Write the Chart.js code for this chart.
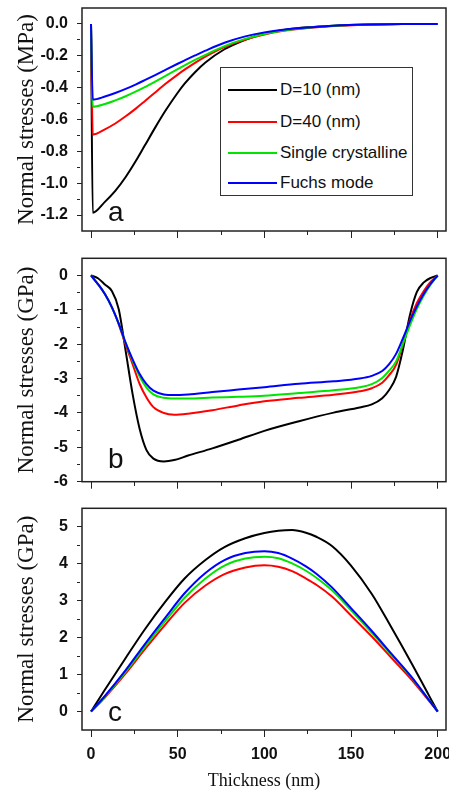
<!DOCTYPE html>
<html lang="en">
<head>
<meta charset="UTF-8" />
<title>Normal stresses vs thickness</title>
<script src="https://cdn.jsdelivr.net/npm/chart.js"></script>
<style>
  body { margin: 0; background: white; }
  .wrap { position: relative; width: 449px; height: 795px; overflow: hidden; font-family: 'Liberation Sans', Arial, sans-serif; }
  canvas { position: absolute; left: 0; }
  .legend { position: absolute; left: 220px; top: 67px; width: 191px; height: 127px; border: 1px solid #333; background: white; }
  .legend .row { position: absolute; left: 7px; height: 20px; display: flex; align-items: center; font-size: 17px; color: #111; white-space: nowrap; }
  .legend .swatch { width: 49px; height: 2px; margin-right: 3px; }
  .tag { position: absolute; left: 108px; font-size: 28px; line-height: 28px; color: #111; }
</style>
</head>
<body>
<div class="wrap">
  <canvas id="panelA" width="449" height="252" style="top:0px"></canvas>
  <canvas id="panelB" width="449" height="252" style="top:252px"></canvas>
  <canvas id="panelC" width="449" height="291" style="top:504px"></canvas>
  <div class="legend" id="legend"></div>
  <div class="tag" style="top:198px">a</div>
  <div class="tag" style="top:445px">b</div>
  <div class="tag" style="top:698px">c</div>
</div>

<script>
  const seriesNames = ["D=10 (nm)", "D=40 (nm)", "Single crystalline", "Fuchs mode"];
  const seriesColors = ["#000000", "#ff0000", "#00e400", "#0000ff"];

  const xMajor = [0, 50, 100, 150, 200];
  const xMinor = [25, 75, 125, 175];

  // panel a  (MPa)
  const thicknessA = [0, 1, 8, 14, 20, 26, 31, 37, 43, 50, 54, 60, 66, 77, 89, 100, 112, 125, 140, 160, 180, 200];
  const aD10    = [0, -1.185, -1.117, -1.048, -0.961, -0.858, -0.764, -0.651, -0.544, -0.432, -0.375, -0.303, -0.242, -0.159, -0.099, -0.06, -0.036, -0.021, -0.011, -0.004, -0.001, 0];
  const aD40    = [0, -0.695, -0.662, -0.625, -0.58, -0.53, -0.485, -0.43, -0.376, -0.318, -0.287, -0.244, -0.205, -0.145, -0.098, -0.066, -0.042, -0.025, -0.013, -0.005, -0.001, 0];
  const aSingle = [0, -0.52, -0.503, -0.48, -0.454, -0.424, -0.397, -0.362, -0.326, -0.284, -0.26, -0.226, -0.194, -0.139, -0.094, -0.063, -0.04, -0.024, -0.012, -0.004, -0.001, 0];
  const aFuchs  = [0, -0.475, -0.456, -0.434, -0.408, -0.379, -0.353, -0.321, -0.288, -0.25, -0.229, -0.198, -0.168, -0.118, -0.078, -0.053, -0.035, -0.022, -0.011, -0.004, -0.001, 0];
  const aYMajor = [0, -0.2, -0.4, -0.6, -0.8, -1.0, -1.2];
  const aYMinor = [-0.1, -0.3, -0.5, -0.7, -0.9, -1.1];

  // panel b  (GPa)
  const thicknessB = [0, 4, 8, 12, 16, 20, 24, 28, 32, 36, 42, 48, 56, 70, 85, 100, 120, 140, 155, 162, 168, 172, 176, 180, 184, 188, 192, 196, 200];
  const bD10    = [0, -0.08, -0.26, -0.45, -0.98, -2.2, -3.45, -4.45, -5.08, -5.33, -5.41, -5.37, -5.24, -5.03, -4.78, -4.52, -4.24, -3.99, -3.84, -3.75, -3.57, -3.33, -2.95, -2.15, -1.15, -0.48, -0.2, -0.07, 0];
  const bD40    = [0, -0.25, -0.54, -0.92, -1.42, -2.02, -2.58, -3.15, -3.55, -3.83, -4.0, -4.05, -4.02, -3.92, -3.78, -3.66, -3.56, -3.47, -3.37, -3.28, -3.12, -2.9, -2.6, -1.98, -1.3, -0.8, -0.45, -0.18, 0];
  const bSingle = [0, -0.25, -0.54, -0.92, -1.4, -1.97, -2.48, -2.93, -3.26, -3.46, -3.56, -3.58, -3.58, -3.55, -3.53, -3.5, -3.42, -3.34, -3.25, -3.16, -2.98, -2.77, -2.5, -1.98, -1.45, -0.97, -0.58, -0.26, 0];
  const bFuchs  = [0, -0.25, -0.54, -0.92, -1.4, -1.96, -2.44, -2.86, -3.16, -3.35, -3.46, -3.48, -3.46, -3.39, -3.32, -3.25, -3.15, -3.08, -3.0, -2.92, -2.78, -2.58, -2.28, -1.82, -1.33, -0.9, -0.53, -0.24, 0];
  const bYMajor = [0, -1, -2, -3, -4, -5, -6];
  const bYMinor = [-0.5, -1.5, -2.5, -3.5, -4.5, -5.5];

  // panel c  (GPa)
  const thicknessC = [0, 8, 20, 31, 43, 54, 66, 77, 89, 100, 108, 116, 124, 130, 139, 150, 162, 173, 185, 195, 200];
  const cD10    = [0, 0.59, 1.45, 2.22, 2.98, 3.6, 4.1, 4.45, 4.69, 4.83, 4.89, 4.91, 4.84, 4.73, 4.48, 3.95, 3.18, 2.3, 1.3, 0.43, 0];
  const cD40    = [0, 0.38, 1.03, 1.68, 2.36, 2.94, 3.41, 3.72, 3.9, 3.96, 3.92, 3.8, 3.6, 3.43, 3.11, 2.6, 2.03, 1.47, 0.86, 0.29, 0];
  const cSingle = [0, 0.4, 1.08, 1.75, 2.46, 3.08, 3.6, 3.95, 4.14, 4.19, 4.15, 4.01, 3.81, 3.62, 3.28, 2.74, 2.13, 1.55, 0.92, 0.31, 0];
  const cFuchs  = [0, 0.42, 1.12, 1.82, 2.55, 3.2, 3.75, 4.1, 4.29, 4.34, 4.29, 4.14, 3.93, 3.73, 3.36, 2.8, 2.18, 1.58, 0.93, 0.31, 0];
  const cYMajor = [0, 1, 2, 3, 4, 5];
  const cYMinor = [0.5, 1.5, 2.5, 3.5, 4.5];

  Chart.defaults.font.family = "'Liberation Sans', Arial, sans-serif";
  Chart.defaults.color = "#111";

  const serif = "'Liberation Serif', 'Times New Roman', serif";

  // full frame around the plot area
  const boxPlugin = {
    id: "box",
    afterDraw(chart) {
      const { ctx, chartArea: a } = chart;
      ctx.save();
      ctx.strokeStyle = "#222";
      ctx.lineWidth = 1.5;
      ctx.strokeRect(a.left, a.top, a.right - a.left, a.bottom - a.top);
      ctx.restore();
    },
  };

  function tickList(major, minor) {
    return major.concat(minor).sort((p, q) => p - q).map(v => ({ value: v }));
  }

  function makePanel(id, xs, ys, opt) {
    const datasets = ys.map((arr, i) => ({
      label: seriesNames[i],
      data: arr.map((v, k) => ({ x: xs[k], y: v })),
      borderColor: seriesColors[i],
      borderWidth: 2,
      pointRadius: 0,
      fill: false,
      cubicInterpolationMode: "monotone",
      order: ys.length - i,
    }));

    return new Chart(document.getElementById(id), {
      type: "line",
      data: { datasets },
      plugins: [boxPlugin],
      options: {
        responsive: false,
        animation: false,
        layout: { padding: { top: opt.padTop, right: 3, left: 0, bottom: 0 } },
        plugins: { legend: { display: false }, tooltip: { enabled: false } },
        scales: {
          x: {
            type: "linear",
            min: -5.2,
            max: 204.8,
            afterBuildTicks: s => { s.ticks = tickList(xMajor, xMinor); },
            afterFit: s => { s.height = opt.xHeight; s.paddingLeft = 0; s.paddingRight = 0; },
            ticks: {
              display: opt.xLabels,
              autoSkip: false,
              maxRotation: 0,
              padding: 8,
              color: "#111",
              font: { size: 16, weight: "bold" },
              callback: v => (xMajor.includes(v) ? String(v) : ""),
            },
            grid: {
              drawOnChartArea: false,
              color: "#222",
              tickLength: 7,
              tickBorderDash: c => (c.tick && !xMajor.includes(c.tick.value) ? [4, 40] : []),
            },
            border: { display: false },
            title: {
              display: opt.xLabels,
              text: "Thickness (nm)",
              color: "#111",
              font: { family: serif, size: 18 },
              padding: { top: 0, bottom: 3 },
            },
          },
          y: {
            min: opt.yMin,
            max: opt.yMax,
            afterBuildTicks: s => { s.ticks = tickList(opt.yMajor, opt.yMinor); },
            afterFit: s => { s.width = 82; s.paddingTop = 0; s.paddingBottom = 0; },
            ticks: {
              autoSkip: false,
              padding: 9,
              color: "#111",
              font: { size: 16, weight: "bold" },
              callback: v => (opt.yMajor.includes(v) ? opt.fmt(v) : ""),
            },
            grid: {
              drawOnChartArea: false,
              color: "#222",
              tickLength: 5,
              tickBorderDash: c => (c.tick && !opt.yMajor.includes(c.tick.value) ? [3, 40] : []),
            },
            border: { display: false },
            title: {
              display: true,
              text: opt.yTitle,
              color: "#111",
              font: { family: serif, size: 23 },
              padding: { top: 13, bottom: 0 },
            },
          },
        },
      },
    });
  }

  makePanel("panelA", thicknessA, [aD10, aD40, aSingle, aFuchs], {
    padTop: 8, xHeight: 21, xLabels: false,
    yMin: -1.3, yMax: 0.1, yMajor: aYMajor, yMinor: aYMinor,
    fmt: v => v.toFixed(1), yTitle: "Normal stresses (MPa)",
  });

  makePanel("panelB", thicknessB, [bD10, bD40, bSingle, bFuchs], {
    padTop: 6.3, xHeight: 22.3, xLabels: false,
    yMin: -6, yMax: 0.5, yMajor: bYMajor, yMinor: bYMinor,
    fmt: v => String(v), yTitle: "Normal stresses (GPa)",
  });

  makePanel("panelC", thicknessC, [cD10, cD40, cSingle, cFuchs], {
    padTop: 4.3, xHeight: 65, xLabels: true,
    yMin: -0.5, yMax: 5.5, yMajor: cYMajor, yMinor: cYMinor,
    fmt: v => String(v), yTitle: "Normal stresses (GPa)",
  });

  // legend box inside panel a
  const legend = document.getElementById("legend");
  const rowTops = [12, 43.7, 75.3, 105.3];
  seriesNames.forEach((name, i) => {
    const row = document.createElement("div");
    row.className = "row";
    row.style.top = rowTops[i] + "px";
    const sw = document.createElement("span");
    sw.className = "swatch";
    sw.style.background = seriesColors[i];
    const txt = document.createElement("span");
    txt.textContent = name;
    row.appendChild(sw);
    row.appendChild(txt);
    legend.appendChild(row);
  });
</script>
</body>
</html>
